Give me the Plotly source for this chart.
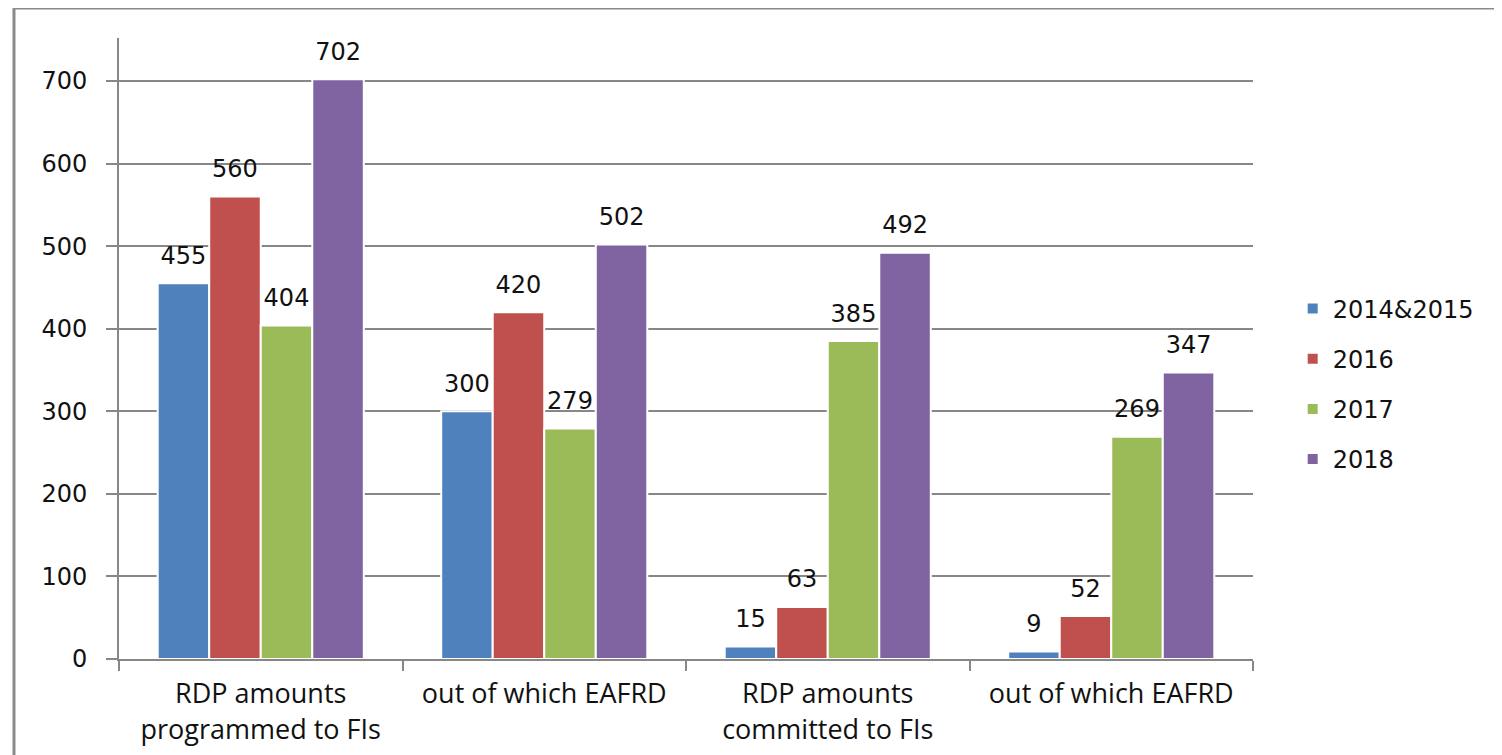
import plotly.graph_objects as go

categories = [0, 1, 2, 3]
category_labels = ["RDP amounts<br>programmed to FIs", "out of which EAFRD",
                   "RDP amounts<br>committed to FIs", "out of which EAFRD"]
series_names = ["2014&2015", "2016", "2017", "2018"]
values_2014_2015 = [455, 300, 15, 9]
values_2016 = [560, 420, 63, 52]
values_2017 = [404, 279, 385, 269]
values_2018 = [702, 502, 492, 347]
y_ticks = [0, 100, 200, 300, 400, 500, 600, 700]

series_values = [values_2014_2015, values_2016, values_2017, values_2018]
colors = ["#4F81BD", "#C0504D", "#9BBB59", "#8064A2"]

bargap = 0.273
n = len(series_names)
slot = (1 - bargap) / n

fig = go.Figure()
for k, (name, vals, col) in enumerate(zip(series_names, series_values, colors)):
    fig.add_trace(go.Bar(
        x=categories, y=vals, name=name, legendgroup=name,
        marker=dict(color=col, line=dict(color="white", width=2)),
    ))
for k, vals in enumerate(series_values):
    off = -(1 - bargap) / 2 + slot * (k + 0.5)
    fig.add_trace(go.Scatter(
        x=[c + off for c in categories], y=vals, mode="markers+text",
        text=[str(v) for v in vals], textposition="top center",
        marker=dict(size=20, opacity=0),
        textfont=dict(family="DejaVu Sans", size=24, color="#111111"),
        showlegend=False, hoverinfo="skip", cliponaxis=False,
    ))

grid_col = "#878787"
fig.update_layout(
    width=1502, height=755,
    margin=dict(l=111, r=257, t=30, b=104),
    paper_bgcolor="white", plot_bgcolor="white",
    barmode="group", bargap=bargap, bargroupgap=0,
    font=dict(family="DejaVu Sans", size=24, color="#111111"),
    legend=dict(x=1.035, y=0.443, xanchor="left", yanchor="middle",
                font=dict(family="DejaVu Sans", size=24, color="#111111"),
                tracegroupgap=16, itemclick=False),
    xaxis=dict(
        range=[-0.5, 3.5], tickmode="array", tickvals=categories,
        ticktext=category_labels, ticks="", showgrid=False,
        showline=True, linecolor=grid_col, linewidth=2, zeroline=False,
        tickfont=dict(family="Open Sans", size=27, color="#111111"),
        ticklabelstandoff=10,
        minor=dict(tickmode="linear", tick0=-0.5, dtick=1, ticks="outside",
                   ticklen=10, tickwidth=2, tickcolor=grid_col, showgrid=False),
    ),
    yaxis=dict(
        range=[0, 752], tickmode="array", tickvals=y_ticks,
        showgrid=True, gridcolor=grid_col, gridwidth=2,
        showline=True, linecolor=grid_col, linewidth=2, zeroline=False,
        ticks="outside", ticklen=11, tickwidth=2, tickcolor=grid_col,
        tickfont=dict(family="DejaVu Sans", size=24, color="#111111"),
        ticklabelstandoff=14,
    ),
    shapes=[dict(type="rect", xref="paper", yref="paper",
                 x0=-0.0926, x1=1.23, y0=-0.2, y1=1.0483,
                 line=dict(color="#8a8a8a", width=3), layer="below")],
)

fig.write_html("out.html")
